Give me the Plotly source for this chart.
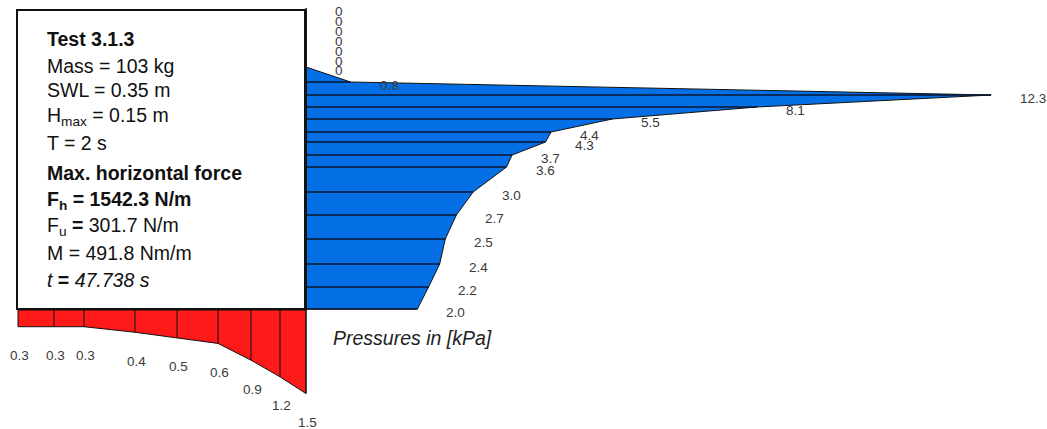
import plotly.graph_objects as go

# ---------------- data ----------------
# wall sensors: elevation above floor [cm] and max pressure [kPa]
wall_elev_cm = [60.4, 58.4, 56.4, 54.4, 52.4, 50.4, 48.6, 45.6, 43.0, 40.6, 38.2,
                35.6, 33.6, 31.0, 28.6, 23.6, 19.0, 14.2, 9.2, 4.6, 0.2]
wall_p_kpa = [0, 0, 0, 0, 0, 0, 0, 0.8, 12.3, 8.1, 5.5,
              4.4, 4.3, 3.7, 3.6, 3.0, 2.7, 2.5, 2.4, 2.2, 2.0]
# floor (uplift) sensors: distance from wall [cm] and pressure [kPa]
floor_dist_cm = [57.6, 50.4, 44.4, 34.2, 25.8, 17.6, 11.0, 5.2, 0.0]
floor_p_kpa = [0.3, 0.3, 0.3, 0.4, 0.5, 0.6, 0.9, 1.2, 1.5]

info_lines = [
    "<b>Test 3.1.3</b>",
    "Mass = 103 kg",
    "SWL = 0.35 m",
    "H<sub>max</sub> = 0.15 m",
    "T = 2 s",
    "<b>Max. horizontal force</b>",
    "<b>F<sub>h</sub> = 1542.3 N/m</b>",
    "F<sub>u</sub> <b>=</b> 301.7 N/m",
    "M = 491.8 Nm/m",
    "<i>t</i> <b>=</b> <i>47.738 s</i>",
]
axis_title = "<i>Pressures in [kPa]</i>"

# ---------------- geometry / style ----------------
W, H = 1047, 429
WALL_X = 306
FLOOR_Y = 310
PX_PER_CM = 5.0
PX_PER_KPA = 55.7
BLUE = "#0570E6"
RED = "#FF1A1A"
LABEL_COLOR = "#3a3a3a"
FONT = "Liberation Sans, Arial, sans-serif"


def lab(v):
    return "0" if v == 0 else f"{v:.1f}"


wy = [FLOOR_Y - z * PX_PER_CM for z in wall_elev_cm]
wx = [WALL_X + p * PX_PER_KPA for p in wall_p_kpa]
fx = [WALL_X - d * PX_PER_CM for d in floor_dist_cm]
fy = [FLOOR_Y + p * PX_PER_KPA for p in floor_p_kpa]

fig = go.Figure()

# blue wall-pressure polygon
fig.add_trace(go.Scatter(
    x=wx + [WALL_X, WALL_X], y=wy + [wy[-1], wy[0]],
    mode="lines", fill="toself", fillcolor=BLUE,
    line=dict(color="#111111", width=1), hoverinfo="skip", showlegend=False))

# horizontal sensor lines
hx, hy = [], []
for x, y, p in zip(wx, wy, wall_p_kpa):
    if p > 0:
        hx += [WALL_X, x, None]
        hy += [y, y, None]
fig.add_trace(go.Scatter(x=hx, y=hy, mode="lines",
                         line=dict(color="#0b1630", width=1.6),
                         hoverinfo="skip", showlegend=False))

# red floor-pressure polygon
fig.add_trace(go.Scatter(
    x=fx + [fx[-1], fx[0]], y=fy + [FLOOR_Y, FLOOR_Y],
    mode="lines", fill="toself", fillcolor=RED,
    line=dict(color="#111111", width=1), hoverinfo="skip", showlegend=False))

vx, vy = [], []
for x, y in zip(fx, fy):
    vx += [x, x, None]
    vy += [FLOOR_Y, y, None]
fig.add_trace(go.Scatter(x=vx, y=vy, mode="lines",
                         line=dict(color="#111111", width=1),
                         hoverinfo="skip", showlegend=False))

annotations = []
for x, y, p in zip(wx, wy, wall_p_kpa):
    annotations.append(dict(x=x + 27, y=y + 3, text=lab(p), showarrow=False,
                            xanchor="left", yanchor="middle", xref="x", yref="y",
                            font=dict(family=FONT, size=13.5, color=LABEL_COLOR)))
for x, y, p in zip(fx, fy, floor_p_kpa):
    annotations.append(dict(x=x + 1, y=y + 29, text=lab(p), showarrow=False,
                            xanchor="center", yanchor="middle", xref="x", yref="y",
                            font=dict(family=FONT, size=13.5, color=LABEL_COLOR)))

annotations.append(dict(x=331, y=338, text=axis_title, showarrow=False,
                        xanchor="left", yanchor="middle", xref="x", yref="y",
                        font=dict(family=FONT, size=19.5, color="#222222")))

text_y = [39, 66, 90, 113, 143, 173, 197, 223, 253, 280]
text_adj = [0, 0, 0, 3, 0, 0, 3, 3, 0, 0]
for t, y, a in zip(info_lines, text_y, text_adj):
    annotations.append(dict(x=45, y=y + a, text=t, showarrow=False,
                            xanchor="left", yanchor="middle", xref="x", yref="y",
                            font=dict(family=FONT, size=19.5, color="#111111")))

shapes = [
    dict(type="line", x0=WALL_X, x1=WALL_X, y0=10, y1=FLOOR_Y, xref="x", yref="y",
         line=dict(color="#111111", width=2), layer="above"),
    dict(type="rect", x0=17, x1=305, y0=10, y1=309, xref="x", yref="y",
         fillcolor="white", line=dict(color="#111111", width=2), layer="above"),
]

fig.update_layout(
    width=W, height=H,
    margin=dict(l=0, r=0, t=0, b=0),
    paper_bgcolor="white", plot_bgcolor="white",
    xaxis=dict(range=[0, W], visible=False, fixedrange=True),
    yaxis=dict(range=[H, 0], visible=False, fixedrange=True),
    annotations=annotations, shapes=shapes, showlegend=False,
)

fig.write_html(
    "out.html",
    config={"displayModeBar": False, "staticPlot": True},
    post_script="document.body.style.margin='0';document.body.style.overflow='hidden';",
)
